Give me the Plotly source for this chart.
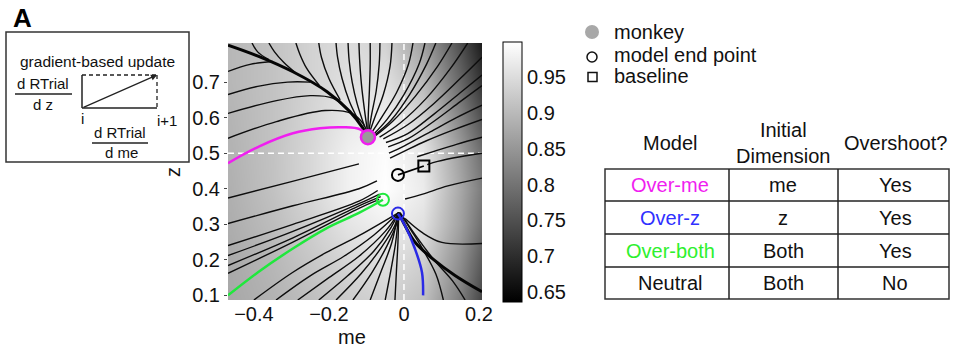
import plotly.graph_objects as go

# ---------------- data ----------------
grid_me = [-0.46, -0.35, -0.25, -0.15, -0.05, 0.05, 0.15, 0.21]
grid_z = [0.09, 0.2, 0.3, 0.4, 0.5, 0.6, 0.7, 0.81]
rt_grid = [
    [0.875, 0.890, 0.907, 0.926, 0.936, 0.910, 0.815, 0.730],
    [0.878, 0.897, 0.919, 0.941, 0.955, 0.932, 0.840, 0.760],
    [0.883, 0.905, 0.931, 0.961, 0.978, 0.955, 0.865, 0.790],
    [0.887, 0.912, 0.942, 0.978, 0.998, 0.971, 0.875, 0.808],
    [0.890, 0.913, 0.942, 0.978, 0.995, 0.964, 0.862, 0.790],
    [0.893, 0.913, 0.938, 0.966, 0.978, 0.935, 0.826, 0.748],
    [0.897, 0.913, 0.935, 0.956, 0.956, 0.899, 0.784, 0.705],
    [0.897, 0.913, 0.935, 0.949, 0.935, 0.864, 0.748, 0.670],
]
rt_min, rt_max = 0.636, 0.999
cbar_ticks = [0.65, 0.7, 0.75, 0.8, 0.85, 0.9, 0.95]
x_ticks = [-0.4, -0.2, 0, 0.2]
y_ticks = [0.1, 0.2, 0.3, 0.4, 0.5, 0.6, 0.7]
me_range = [-0.469, 0.208]
z_range = [0.087, 0.81]
ref_me, ref_z = 0.0, 0.5

# thin flow lines (model trajectories from many starting points)
flow_me = [
    [-0.469, -0.41, -0.35],
    [-0.469, -0.39, -0.31, -0.25],
    [-0.469, -0.34, -0.25, -0.19, -0.15],
    [-0.469, -0.34, -0.21, -0.14, -0.11, -0.096],
    [-0.405, -0.39, -0.36],
    [-0.36, -0.345, -0.32, -0.29],
    [-0.288, -0.278, -0.26, -0.225],
    [-0.227, -0.22, -0.2, -0.17],
    [-0.181, -0.177, -0.165, -0.145, -0.12],
    [-0.149, -0.146, -0.138, -0.125, -0.105],
    [-0.12, -0.118, -0.113, -0.105, -0.097],
    [-0.09, -0.09, -0.092, -0.095, -0.096],
    [-0.064, -0.066, -0.074, -0.086, -0.094],
    [-0.032, -0.037, -0.055, -0.078, -0.092],
    [0.024, 0.012, -0.02, -0.06, -0.088],
    [0.056, 0.04, 0.0, -0.045, -0.082],
    [0.085, 0.06, 0.015, -0.035, -0.078],
    [0.128, 0.09, 0.03, -0.03, -0.075],
    [0.17, 0.125, 0.06, -0.01, -0.065],
    [0.208, 0.15, 0.08, 0.01, -0.055],
    [0.208, 0.15, 0.08, 0.01, -0.048],
    [0.208, 0.15, 0.08, 0.01, -0.042],
    [0.208, 0.14, 0.07, 0.0, -0.04],
    [0.208, 0.13, 0.06, 0.0, -0.037],
    [0.208, 0.14, 0.08, 0.035],
    [0.208, 0.15, 0.09, 0.062],
    [0.208, 0.117, 0.05, 0.003],
    [0.208, 0.101, 0.048, 0.003],
    [-0.469, -0.30, -0.12],
    [-0.469, -0.296, -0.12, -0.072],
    [-0.469, -0.296, -0.12, -0.07],
    [-0.469, -0.296, -0.12, -0.065],
    [-0.469, -0.296, -0.12, -0.062],
    [-0.469, -0.296, -0.12, -0.066],
    [-0.40, -0.296, -0.208, -0.12, -0.014],
    [-0.341, -0.25, -0.16, -0.08, -0.014],
    [-0.283, -0.20, -0.12, -0.05, -0.014],
    [-0.227, -0.15, -0.08, -0.035, -0.014],
    [-0.181, -0.115, -0.06, -0.025, -0.014],
    [-0.136, -0.085, -0.045, -0.02, -0.014],
    [-0.09, -0.06, -0.032, -0.016],
    [-0.05, -0.035, -0.022, -0.014],
    [-0.024, -0.02, -0.016, -0.014],
    [0.105, 0.085, 0.05, 0.015, -0.01],
    [0.163, 0.13, 0.08, 0.03, -0.005],
]
flow_z = [
    [0.73, 0.75, 0.758],
    [0.665, 0.688, 0.70, 0.70],
    [0.612, 0.648, 0.662, 0.655, 0.623],
    [0.542, 0.589, 0.620, 0.612, 0.585, 0.553],
    [0.81, 0.785, 0.763],
    [0.81, 0.785, 0.755, 0.727],
    [0.81, 0.78, 0.74, 0.69],
    [0.81, 0.77, 0.71, 0.65],
    [0.81, 0.77, 0.71, 0.645, 0.59],
    [0.81, 0.76, 0.70, 0.64, 0.575],
    [0.81, 0.76, 0.69, 0.62, 0.56],
    [0.81, 0.75, 0.68, 0.61, 0.56],
    [0.81, 0.75, 0.675, 0.61, 0.56],
    [0.81, 0.745, 0.665, 0.6, 0.558],
    [0.81, 0.75, 0.67, 0.6, 0.555],
    [0.81, 0.75, 0.665, 0.595, 0.552],
    [0.81, 0.75, 0.665, 0.592, 0.551],
    [0.81, 0.745, 0.66, 0.59, 0.55],
    [0.81, 0.74, 0.655, 0.585, 0.545],
    [0.77, 0.71, 0.64, 0.58, 0.54],
    [0.72, 0.67, 0.61, 0.555, 0.53],
    [0.69, 0.645, 0.59, 0.54, 0.518],
    [0.635, 0.60, 0.56, 0.52, 0.50],
    [0.595, 0.565, 0.535, 0.505, 0.486],
    [0.545, 0.525, 0.505, 0.49],
    [0.50, 0.49, 0.477, 0.468],
    [0.43, 0.408, 0.385, 0.371],
    [0.246, 0.249, 0.277, 0.316],
    [0.374, 0.42, 0.47],
    [0.302, 0.352, 0.40, 0.422],
    [0.24, 0.30, 0.365, 0.395],
    [0.212, 0.28, 0.358, 0.385],
    [0.184, 0.262, 0.352, 0.378],
    [0.162, 0.25, 0.345, 0.37],
    [0.087, 0.165, 0.22, 0.268, 0.333],
    [0.087, 0.155, 0.21, 0.27, 0.333],
    [0.087, 0.15, 0.21, 0.28, 0.333],
    [0.087, 0.155, 0.225, 0.29, 0.333],
    [0.087, 0.16, 0.235, 0.295, 0.333],
    [0.087, 0.165, 0.24, 0.30, 0.333],
    [0.087, 0.17, 0.25, 0.333],
    [0.087, 0.17, 0.25, 0.333],
    [0.087, 0.17, 0.25, 0.333],
    [0.087, 0.16, 0.23, 0.29, 0.333],
    [0.087, 0.14, 0.2, 0.27, 0.325],
]

# bundles where many trajectories overlap
thick_me = [[-0.469, -0.384, -0.296, -0.205, -0.144, -0.109, -0.096],
            [0.208, 0.136, 0.075, 0.029, 0.003, -0.014]]
thick_z = [[0.804, 0.771, 0.729, 0.673, 0.617, 0.570, 0.545],
           [0.11, 0.156, 0.204, 0.25, 0.296, 0.333]]

# highlighted model trajectories
over_me_me = [-0.469, -0.384, -0.296, -0.224, -0.163, -0.117, -0.096]
over_me_z = [0.472, 0.52, 0.556, 0.57, 0.573, 0.567, 0.545]
over_both_me = [-0.469, -0.389, -0.296, -0.208, -0.12, -0.056]
over_both_z = [0.10, 0.165, 0.232, 0.288, 0.332, 0.369]
over_z_me = [0.051, 0.048, 0.029, 0.003, -0.016]
over_z_z = [0.100, 0.165, 0.232, 0.296, 0.330]

monkey_me, monkey_z = -0.096, 0.545
neutral_me = [-0.016, 0.053]   # model end point -> baseline
neutral_z = [0.439, 0.464]

table_header = ["Model", "Initial<br>Dimension", "Overshoot?"]
table_models = ["Over-me", "Over-z", "Over-both", "Neutral"]
table_dims = ["me", "z", "Both", "Both"]
table_over = ["Yes", "Yes", "Yes", "No"]
legend_labels = ["monkey", "model end point", "baseline"]

# ---------------- styling ----------------
FONT = "Liberation Sans, Arial, sans-serif"
MAGENTA = "#f01ef0"
GREEN = "#1fe83c"
BLUE = "#2a2ae6"
model_colors = [MAGENTA, "#3030ff", "#2ef02e", "#111111"]

W, H = 961, 356
L, R, T, B = 228, 482, 43, 300


def px_x(p):
    return (p - L) / (R - L)


def px_y(p):
    return (B - p) / (B - T)


fig = go.Figure()

fig.add_trace(go.Heatmap(
    x=grid_me, y=grid_z, z=rt_grid, zsmooth="best",
    colorscale=[[0, "black"], [1, "white"]], zmin=rt_min, zmax=rt_max,
    colorbar=dict(
        x=px_x(503), xanchor="left", y=px_y(172), yanchor="middle",
        thickness=19, thicknessmode="pixels", len=260, lenmode="pixels",
        xpad=0, ypad=0, outlinewidth=1, outlinecolor="black",
        tickvals=cbar_ticks, ticktext=[f"{v:g}" for v in cbar_ticks],
        ticks="", tickfont=dict(size=20, color="#111", family=FONT)),
    hoverinfo="skip"))

# dashed reference lines
fig.add_trace(go.Scatter(x=[ref_me, ref_me], y=z_range, mode="lines",
                         line=dict(color="white", width=1.5, dash="6px,4px"),
                         hoverinfo="skip"))
fig.add_trace(go.Scatter(x=me_range, y=[ref_z, ref_z], mode="lines",
                         line=dict(color="white", width=1.5, dash="6px,4px"),
                         hoverinfo="skip"))

for xs, ys in zip(flow_me, flow_z):
    fig.add_trace(go.Scatter(x=xs, y=ys, mode="lines",
                             line=dict(color="#0d0d0d", width=1.4, shape="spline", smoothing=1.0),
                             hoverinfo="skip"))
for xs, ys in zip(thick_me, thick_z):
    fig.add_trace(go.Scatter(x=xs, y=ys, mode="lines",
                             line=dict(color="#050505", width=3, shape="spline", smoothing=1.0),
                             hoverinfo="skip"))

for xs, ys, c in [(over_me_me, over_me_z, MAGENTA), (over_both_me, over_both_z, GREEN),
                  (over_z_me, over_z_z, BLUE)]:
    fig.add_trace(go.Scatter(x=xs, y=ys, mode="lines",
                             line=dict(color=c, width=2.5, shape="spline", smoothing=1.0),
                             hoverinfo="skip"))

# neutral model: baseline -> end point
fig.add_trace(go.Scatter(x=neutral_me, y=neutral_z, mode="lines",
                         line=dict(color="black", width=1.8), hoverinfo="skip"))
fig.add_trace(go.Scatter(x=[neutral_me[0]], y=[neutral_z[0]], mode="markers",
                         marker=dict(symbol="circle-open", size=12, color="black", line=dict(width=2))))
fig.add_trace(go.Scatter(x=[neutral_me[1]], y=[neutral_z[1]], mode="markers",
                         marker=dict(symbol="square-open", size=11, color="black", line=dict(width=2))))
# end points of highlighted models
fig.add_trace(go.Scatter(x=[over_both_me[-1]], y=[over_both_z[-1]], mode="markers",
                         marker=dict(symbol="circle-open", size=12, color=GREEN, line=dict(width=2))))
fig.add_trace(go.Scatter(x=[over_z_me[-1]], y=[over_z_z[-1]], mode="markers",
                         marker=dict(symbol="circle-open", size=12, color=BLUE, line=dict(width=2))))
fig.add_trace(go.Scatter(x=[monkey_me], y=[monkey_z], mode="markers",
                         marker=dict(symbol="circle", size=14, color="#9a9a9a",
                                     line=dict(width=2.5, color=MAGENTA))))

shapes = []
annots = []


def line(x0, y0, x1, y1, w=1.5, color="#222", dash=None):
    d = dict(type="line", xref="paper", yref="paper",
             x0=px_x(x0), y0=px_y(y0), x1=px_x(x1), y1=px_y(y1),
             line=dict(color=color, width=w))
    if dash:
        d["line"]["dash"] = dash
    shapes.append(d)


def text(x, y, s, size=20, color="#111", bold=False, xanchor="center", angle=0):
    annots.append(dict(xref="paper", yref="paper", x=px_x(x), y=px_y(y), text=f"<b>{s}</b>" if bold else s,
                       showarrow=False, xanchor=xanchor, yanchor="middle", textangle=angle,
                       font=dict(size=size, color=color, family=FONT)))


# panel letter and axis titles
text(22, 18, "A", size=26, bold=True, color="#000")
text(352, 337, "me", size=20)
text(173, 172, "z", size=20, angle=-90)

# inset: gradient-based update
shapes.append(dict(type="rect", xref="paper", yref="paper", x0=px_x(6), y0=px_y(162),
                   x1=px_x(189), y1=px_y(32), line=dict(color="#333", width=1.5)))
text(97, 62, "gradient-based update", size=15.5)
text(43, 83, "d RTrial", size=15)
line(15, 94, 72, 94, w=1.3)
text(43, 104, "d z", size=15)
line(82, 75, 82, 108, w=1.5)
line(82, 108, 157, 108, w=1.5)
line(82, 75, 157, 75, w=1.3, dash="4px,3px")
line(157, 75, 157, 108, w=1.3, dash="4px,3px")
annots.append(dict(xref="paper", yref="paper", x=px_x(157), y=px_y(75), ax=-75, ay=33,
                   axref="pixel", ayref="pixel", showarrow=True, arrowhead=2, arrowsize=1,
                   arrowwidth=1.2, arrowcolor="#222", text="", standoff=0))
text(82, 119, "i", size=15)
text(167, 120, "i+1", size=15)
text(120, 132, "d RTrial", size=15)
line(92, 143, 148, 143, w=1.3)
text(121, 152, "d me", size=15)

# legend
shapes.append(dict(type="circle", xref="paper", yref="paper", x0=px_x(585), x1=px_x(599),
                   y0=px_y(39), y1=px_y(25), fillcolor="#a8a8a8", line=dict(width=0)))
shapes.append(dict(type="circle", xref="paper", yref="paper", x0=px_x(587), x1=px_x(597),
                   y0=px_y(62), y1=px_y(52), line=dict(color="#111", width=1.5)))
shapes.append(dict(type="rect", xref="paper", yref="paper", x0=px_x(588), x1=px_x(597),
                   y0=px_y(81.5), y1=px_y(72.5), line=dict(color="#111", width=1.5)))
for lab, yy in zip(legend_labels, [32, 55, 76]):
    text(612, yy, lab, size=20, xanchor="left")

# table
col_centers = [670, 783, 895]
col_edges = [605, 729, 838, 949]
row_edges = [169, 201, 234, 267, 299]
for s, cx in zip(table_header, col_centers):
    text(cx, 143, s, size=20)
shapes.append(dict(type="rect", xref="paper", yref="paper", x0=px_x(col_edges[0]), x1=px_x(col_edges[-1]),
                   y0=px_y(row_edges[-1]), y1=px_y(row_edges[0]), line=dict(color="#333", width=1.5)))
for cx in col_edges[1:-1]:
    line(cx, row_edges[0], cx, row_edges[-1])
for ry in row_edges[1:-1]:
    line(col_edges[0], ry, col_edges[-1], ry)
for i in range(4):
    cy = (row_edges[i] + row_edges[i + 1]) / 2
    text(col_centers[0], cy, table_models[i], size=20, color=model_colors[i])
    text(col_centers[1], cy, table_dims[i], size=20)
    text(col_centers[2], cy, table_over[i], size=20)

fig.update_layout(
    width=W, height=H, margin=dict(l=L, r=W - R, t=T, b=H - B),
    paper_bgcolor="white", plot_bgcolor="white", showlegend=False,
    font=dict(family=FONT, size=20, color="#111"),
    shapes=shapes, annotations=annots,
    xaxis=dict(range=me_range, tickvals=x_ticks, ticktext=["\u22120.4", "\u22120.2", "0", "0.2"],
               showgrid=False, zeroline=False, ticks="", tickfont=dict(size=20)),
    yaxis=dict(range=z_range, tickvals=y_ticks, ticktext=[f"{v:g}" for v in y_ticks],
               showgrid=False, zeroline=False, ticks="outside", ticklen=3, tickcolor="#444",
               tickfont=dict(size=20)),
)

fig.write_html("out.html")
